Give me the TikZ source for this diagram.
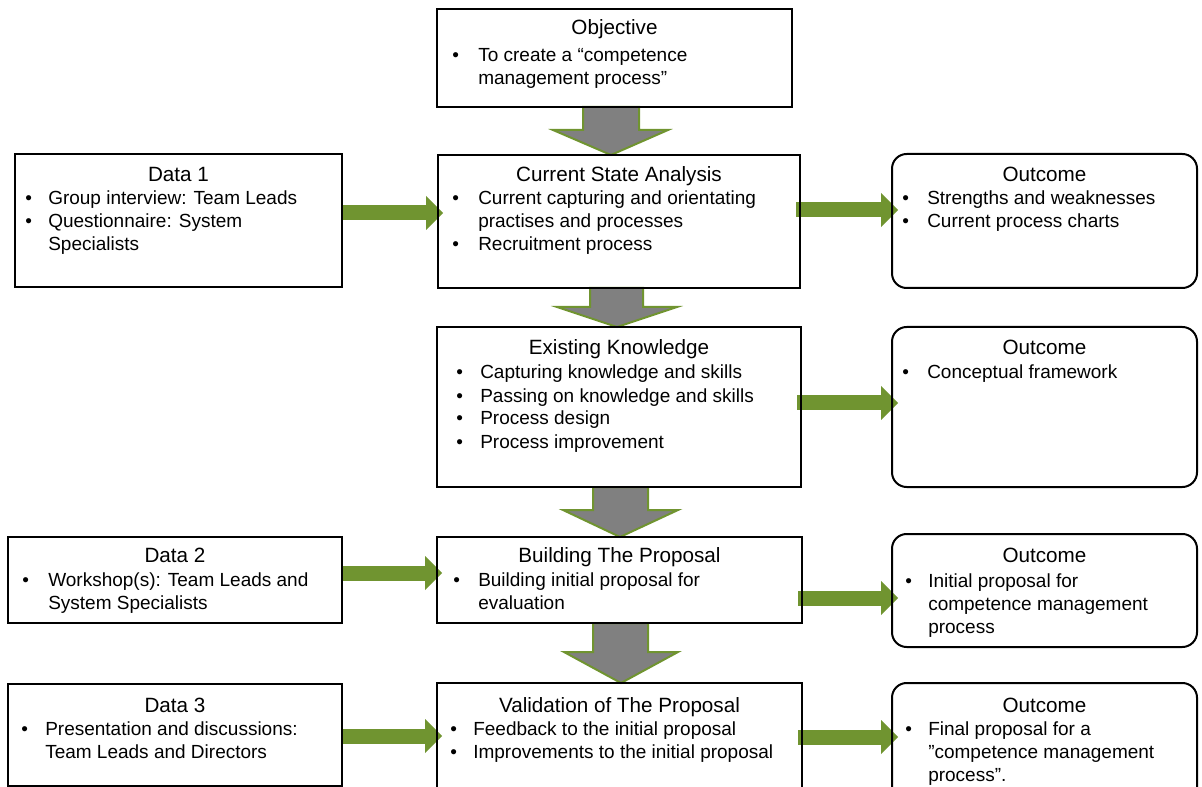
\documentclass[tikz,border=0pt]{standalone}
\usepackage{fontspec}
\setmainfont{Liberation Sans}
\usetikzlibrary{calc,fit,arrows.meta}
\pgfdeclarelayer{bg}
\pgfsetlayers{bg,main}
\definecolor{leaf}{RGB}{112,148,48}
\definecolor{shaftgray}{RGB}{128,128,128}
% bullet list: first column holds the bullet, second the text
\newcommand{\itemlist}[2]{\begin{tabular}[t]{@{}p{#1}@{}l@{}}#2\end{tabular}}
\tikzset{
  frame/.style={draw=black, line width=1.5pt, inner sep=0pt, outer sep=0pt},
  roundframe/.style={frame, rounded corners=11pt},
  heading/.style={anchor=base, inner sep=0pt, font=\fontsize{15.5}{18}\selectfont},
  items/.style={anchor=base west, inner sep=0pt, font=\fontsize{14.25}{17.25}\selectfont},
  feed/.style={draw=leaf, line width=11.25pt, line cap=butt,
    -{Triangle[width=25.5pt,length=12.75pt,line width=0pt]}, shorten >=-3.75pt},
  outfeed/.style={feed, shorten <=-3pt, shorten >=-4.5pt},
  drop/.style={fill=shaftgray, draw=leaf, line width=1.5pt, line join=miter}
}
\begin{document}
\begin{tikzpicture}[x=0.75pt,y=-0.75pt]
\useasboundingbox (0,0) rectangle (1202,787);
\clip (0,0) rectangle (1202,787);

% boxes
\node[frame, fit={(437,9) (792,107)}] (obj) {};
\node[frame, fit={(438,155) (800,288)}] (csa) {};
\node[frame, fit={(15,154) (342,287)}] (d1) {};
\node[roundframe, fit={(892,154) (1197,288)}] (o1) {};
\node[frame, fit={(437,327) (801,487)}] (ek) {};
\node[roundframe, fit={(892,327) (1197,487)}] (o2) {};
\node[frame, fit={(8,537) (342,623)}] (d2) {};
\node[frame, fit={(437,537) (802,623)}] (bp) {};
\node[roundframe, fit={(892,534) (1197,647)}] (o3) {};
\node[frame, fit={(8,684) (342,786)}] (d3) {};
\node[frame, fit={(437,683) (802,815)}] (vp) {};
\node[roundframe, fit={(892,683) (1197,815)}] (o4) {};

% headings
\node[heading] (obj-t) at (obj.north |- 0,35) {Objective};
\node[heading] (csa-t) at (csa.north |- 0,182) {Current State Analysis};
\node[heading] (d1-t) at (d1.north |- 0,182) {Data 1};
\node[heading] (o1-t) at (o1.north |- 0,182) {Outcome};
\node[heading] (ek-t) at (ek.north |- 0,355) {Existing Knowledge};
\node[heading] (o2-t) at (o2.north |- 0,355) {Outcome};
\node[heading] (d2-t) at (d2.north |- 0,562) {Data 2};
\node[heading] (bp-t) at (bp.north |- 0,562) {Building The Proposal};
\node[heading] (o3-t) at (o3.north |- 0,562) {Outcome};
\node[heading] (d3-t) at (d3.north |- 0,712) {Data 3};
\node[heading] (vp-t) at (vp.north |- 0,712) {Validation of The Proposal};
\node[heading] (o4-t) at (o4.north |- 0,712) {Outcome};

% bullet lists
\node[items] (obj-i) at (452,62) {\itemlist{19.5pt}{\textbullet & To create a “competence\\ & management process”}};
\node[items] (d1-i) at (25,205) {\itemlist{17.25pt}{\textbullet & Group interview: Team Leads\\ \textbullet & Questionnaire: System\\ & Specialists}};
\node[items] (csa-i) at (452,205) {\itemlist{19.5pt}{\textbullet & Current capturing and orientating\\ & practises and processes\\ \textbullet & Recruitment process}};
\node[items] (o1-i) at (902,205) {\itemlist{18.75pt}{\textbullet & Strengths and weaknesses\\ \textbullet & Current process charts}};
\node[items] (ek-i) at (456,379) {\itemlist{18pt}{\textbullet & Capturing knowledge and skills\\ \textbullet & Passing on knowledge and skills\\ \textbullet & Process design\\ \textbullet & Process improvement}};
\node[items] (o2-i) at (902,379) {\itemlist{18.75pt}{\textbullet & Conceptual framework}};
\node[items] (d2-i) at (22,586) {\itemlist{19.5pt}{\textbullet & Workshop(s): Team Leads and\\ & System Specialists}};
\node[items] (bp-i) at (453,586) {\itemlist{18.75pt}{\textbullet & Building initial proposal for\\ & evaluation}};
\node[items] (o3-i) at (905,587) {\itemlist{17.25pt}{\textbullet & Initial proposal for\\ & competence management\\ & process}};
\node[items] (d3-i) at (21,735) {\itemlist{18pt}{\textbullet & Presentation and discussions:\\ & Team Leads and Directors}};
\node[items] (vp-i) at (450,735) {\itemlist{17.25pt}{\textbullet & Feedback to the initial proposal\\ \textbullet & Improvements to the initial proposal}};
\node[items] (o4-i) at (905,735) {\itemlist{17.25pt}{\textbullet & Final proposal for a\\ & ”competence management\\ & process”.}};

\begin{pgfonlayer}{bg}
% downward block arrows between the stages
\draw[drop] (583,0 |- obj.south) -- (583,130) -- (553,130) -- (611,0 |- csa.north)
  -- (668,130) -- (639,130) -- (639,0 |- obj.south) -- cycle;
\draw[drop] (590,0 |- csa.south) -- (590,307) -- (557,307) -- (617,0 |- ek.north)
  -- (677,307) -- (643,307) -- (643,0 |- csa.south) -- cycle;
\draw[drop] (593,0 |- ek.south) -- (593,510) -- (563,510) -- (620,0 |- bp.north)
  -- (678,510) -- (648,510) -- (648,0 |- ek.south) -- cycle;
\draw[drop] (593,0 |- bp.south) -- (593,652) -- (564,652) -- (621,0 |- vp.north)
  -- (678,652) -- (648,652) -- (648,0 |- bp.south) -- cycle;

% data inputs and outcomes
\draw[feed] (d1.east |- 0,213) -- (csa.west |- 0,213);
\draw[outfeed] (csa.east |- 0,210) -- (o1.west |- 0,210);
\draw[outfeed] (ek.east |- 0,403) -- (o2.west |- 0,403);
\draw[feed] (d2.east |- 0,573) -- (bp.west |- 0,573);
\draw[outfeed] (bp.east |- 0,598) -- (o3.west |- 0,598);
\draw[feed] (d3.east |- 0,736) -- (vp.west |- 0,736);
\draw[outfeed] (vp.east |- 0,737) -- (o4.west |- 0,737);
\end{pgfonlayer}
\end{tikzpicture}
\end{document}
